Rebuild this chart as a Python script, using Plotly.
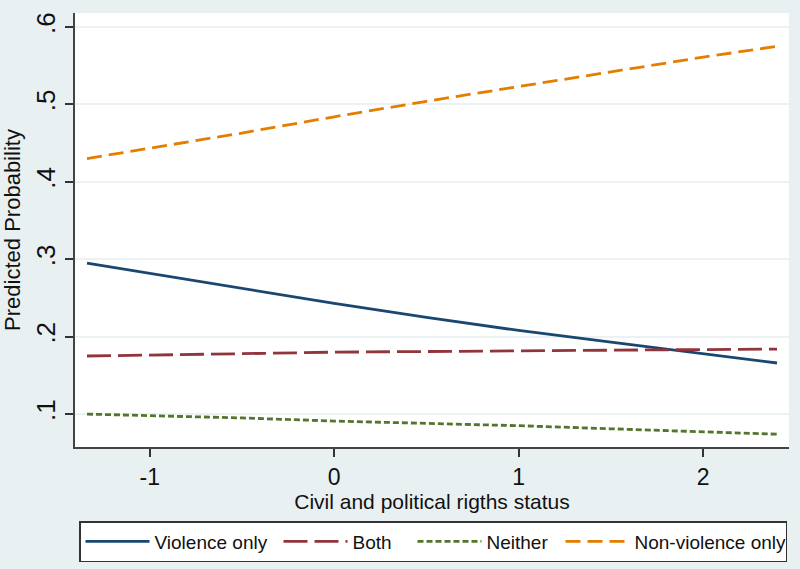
import plotly.graph_objects as go

# Civil and political rights status (x) and predicted probabilities per outcome
cpr_status = [-1.34, -1.0, -0.5, 0.0, 0.5, 1.0, 1.5, 2.0, 2.4]
violence_only = [0.295, 0.282, 0.262, 0.243, 0.225, 0.208, 0.193, 0.178, 0.166]
both = [0.175, 0.176, 0.178, 0.180, 0.181, 0.182, 0.183, 0.184, 0.184]
neither = [0.100, 0.098, 0.095, 0.091, 0.088, 0.085, 0.081, 0.077, 0.074]
nonviolence_only = [0.430, 0.443, 0.463, 0.484, 0.504, 0.523, 0.542, 0.561, 0.575]

x_ticks = [-1, 0, 1, 2]
x_tick_text = ["-1", "0", "1", "2"]
y_ticks = [0.1, 0.2, 0.3, 0.4, 0.5, 0.6]
y_tick_text = [".1", ".2", ".3", ".4", ".5", ".6"]

FONT = "Liberation Sans, Arial, sans-serif"

# name, values, colour, dash pattern, legend entry width
series = [
    ("Violence only", violence_only, "#1a476f", "solid", 119),
    ("Both", both, "#90353b", "24px,7px", 55),
    ("Neither", neither, "#55752f", "6px,3px", 69),
    ("Non-violence only", nonviolence_only, "#e37e00", "15px,7px", 146),
]

fig = go.Figure()
for name, vals, color, dash, lw in series:
    fig.add_trace(go.Scatter(
        x=cpr_status, y=vals, mode="lines", name=name,
        line=dict(color=color, width=2.8, dash=dash),
        legendwidth=lw,
    ))

fig.update_layout(
    width=800, height=569,
    margin=dict(l=73, r=11, t=13, b=122),
    paper_bgcolor="#e9f0f2",
    plot_bgcolor="white",
    font=dict(family=FONT, color="#111111"),
    showlegend=True,
    legend=dict(
        orientation="h",
        xref="container", yref="container",
        x=79 / 800, y=1 - 521 / 569,
        xanchor="left", yanchor="top",
        bgcolor="white", bordercolor="#333333", borderwidth=1.5,
        font=dict(size=19, family=FONT),
        itemwidth=64,
        tracegroupgap=0,
    ),
)

fig.update_xaxes(
    range=[-1.405, 2.465],
    tickvals=x_ticks, ticktext=x_tick_text,
    tickfont=dict(size=23),
    ticks="outside", ticklen=8, tickwidth=1.5, tickcolor="#333333",
    showline=True, linecolor="#444444", linewidth=2,
    showgrid=False, zeroline=False,
    title=dict(text="Civil and political rigths status", font=dict(size=21), standoff=4),
)
fig.update_yaxes(
    range=[0.0575, 0.618],
    tickvals=y_ticks, ticktext=y_tick_text,
    tickangle=-90,
    tickfont=dict(size=26),
    ticks="outside", ticklen=8, tickwidth=1.5, tickcolor="#333333",
    showline=True, linecolor="#444444", linewidth=2,
    showgrid=True, gridcolor="#eaf2f3", gridwidth=2,
    zeroline=False,
    title=dict(text="Predicted Probability", font=dict(size=22), standoff=4),
)

fig.write_html("out.html")
